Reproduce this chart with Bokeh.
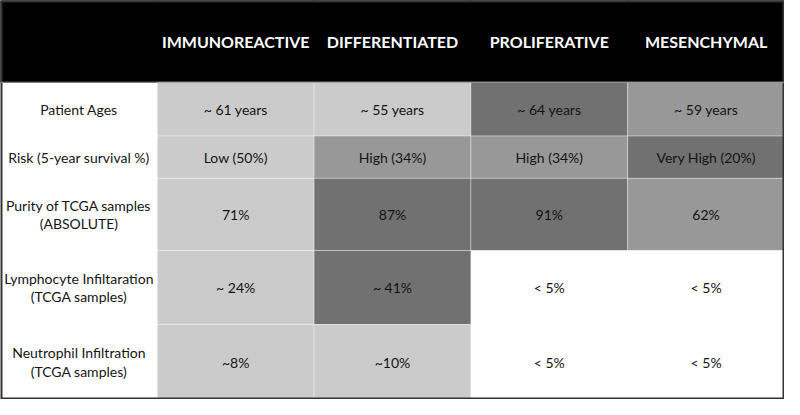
from bokeh.plotting import figure
from bokeh.models import ColumnDataSource, FactorRange, Range1d, Span
from bokeh.core.properties import value
from bokeh.embed import file_html
from bokeh.resources import INLINE

# ---- data ----
groups = ["IMMUNOREACTIVE", "DIFFERENTIATED", "PROLIFERATIVE", "MESENCHYMAL"]
row_labels = [
    "Patient Ages",
    "Risk (5-year survival %)",
    "Purity of TCGA samples\n(ABSOLUTE)",
    "Lymphocyte Infiltaration\n(TCGA samples)",
    "Neutrophil Infiltration\n(TCGA samples)",
]
immuno_vals = ["~ 61 years", "Low (50%)", "71%", "~ 24%", "~8%"]
diff_vals = ["~ 55 years", "High (34%)", "87%", "~ 41%", "~10%"]
prol_vals = ["~ 64 years", "High (34%)", "91%", "< 5%", "< 5%"]
mes_vals = ["~ 59 years", "Very High (20%)", "62%", "< 5%", "< 5%"]
# shade level: 0 white, 1 light, 2 medium, 3 dark
immuno_shade = [1, 1, 1, 1, 1]
diff_shade = [1, 2, 3, 3, 1]
prol_shade = [3, 2, 3, 0, 0]
mes_shade = [2, 3, 2, 0, 0]

# ---- layout / style ----
LABEL_COL = "row"
HEADER_H = 85
ROW_H = [56, 44, 75, 77, 78]
SHADES = ["#ffffff", "#cbcbcb", "#989898", "#717171"]
FONT = "Lato"
TEXT_COLOR = "#141414"

total_h = HEADER_H + sum(ROW_H)
edges = [HEADER_H]
for h in ROW_H:
    edges.append(edges[-1] + h)
centers = [(edges[i] + edges[i + 1]) / 2 for i in range(len(ROW_H))]

factors = [LABEL_COL] + groups
p = figure(width=784, height=399, x_range=FactorRange(*factors, range_padding=0),
           y_range=Range1d(total_h, 0), output_backend="svg", toolbar_location=None,
           x_axis_location=None, y_axis_location=None, min_border=0,
           background_fill_color="white", border_fill_color="white")
p.grid.visible = False
p.outline_line_color = None

# header band
p.rect(x=factors, y=[HEADER_H / 2] * len(factors), width=1, height=HEADER_H,
       fill_color="black", line_color="black")
p.text(x=groups, y=[HEADER_H / 2] * len(groups), text=groups, text_color="white",
       text_font=value(FONT), text_font_style="bold", text_font_size="16px",
       text_align="center", text_baseline="middle")

# cells
all_vals = [immuno_vals, diff_vals, prol_vals, mes_vals]
all_shades = [immuno_shade, diff_shade, prol_shade, mes_shade]
cx, cy, ch, cfill, ctext, cline = [], [], [], [], [], []
for g, vals, shades in zip(groups, all_vals, all_shades):
    for i, (v, s) in enumerate(zip(vals, shades)):
        cx.append(g)
        cy.append(centers[i])
        ch.append(ROW_H[i])
        cfill.append(SHADES[s])
        ctext.append(v)
        cline.append(0.35 if s > 0 else 0.0)
src = ColumnDataSource(dict(x=cx, y=cy, h=ch, fill=cfill, text=ctext, la=cline))
p.rect(x="x", y="y", width=1, height="h", fill_color="fill", line_color="white",
       line_alpha="la", line_width=1, source=src)
p.text(x="x", y="y", text="text", source=src, text_color=TEXT_COLOR,
       text_font=value(FONT), text_font_size="14px", text_align="center",
       text_baseline="middle")

# row labels
p.text(x=[LABEL_COL] * len(row_labels), y=centers, text=row_labels, text_color=TEXT_COLOR,
       text_font=value(FONT), text_font_size="14px", text_align="center",
       text_baseline="middle", text_line_height=1.1)

p.add_layout(Span(location=HEADER_H, dimension="width", line_color="#9a9a9a", line_width=1))

# outer border
p.rect(x=[groups[1]], y=[total_h / 2], width=len(factors), height=total_h,
       fill_color=None, line_color="#333333", line_width=4)

open("out.html", "w").write(file_html(p, INLINE))
